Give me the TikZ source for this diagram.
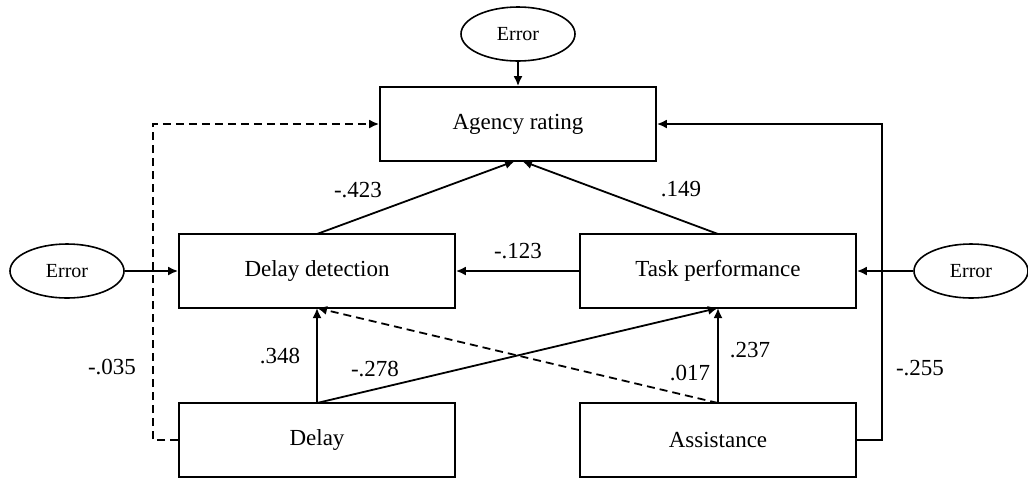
\documentclass[tikz,border=0pt]{standalone}
\usepackage{fontspec}
\setmainfont{Liberation Serif}
\usetikzlibrary{shapes.geometric,arrows.meta}
\begin{document}
\begin{tikzpicture}[x=0.5pt,y=-0.5pt,
  var/.style={draw,line width=0.9pt,minimum width=138pt,minimum height=37pt,inner sep=0pt,font=\fontsize{11.5pt}{13pt}\selectfont},
  err/.style={draw,ellipse,line width=0.8pt,minimum width=57pt,minimum height=27pt,inner sep=0pt,font=\fontsize{10pt}{12pt}\selectfont},
  conn/.style={line width=0.9pt,-{Latex[length=5pt,width=4.5pt]}},
  dconn/.style={conn,dash pattern=on 4pt off 2.5pt},
  lab/.style={font=\fontsize{11.5pt}{13pt}\selectfont,inner sep=0pt}]
\useasboundingbox (0,0) rectangle (1028,478);
\node[var] (ar) at (518,124) {Agency rating};
\node[var] (dd) at (317,271) {Delay detection};
\node[var] (tp) at (718,271) {Task performance};
\node[var] (de) at (317,440) {Delay};
\node[var] (as) at (718,440) {Assistance};
\node[err] (e1) at (518,34) {Error};
\node[err] (e2) at (67,271) {Error};
\node[err] (e3) at (971,271) {Error};
\coordinate (tgt1) at (515,161);
\coordinate (tgt2) at (522,161);
\coordinate (ddb) at (317,308);
\coordinate (tpb) at (718,308);
\coordinate (det) at (317,403);
\coordinate (ast) at (718,403);
\coordinate (ddt) at (317,234);
\coordinate (tpt) at (718,234);
\coordinate (lc1) at (153,440);
\coordinate (lc2) at (153,124);
\coordinate (rc1) at (882,440);
\coordinate (rc2) at (882,124);
\draw[conn] (e1) -- (ar);
\draw[conn] (e2) -- (dd);
\draw[conn] (e3) -- (tp);
\draw[conn] (ddt) -- (tgt1);
\draw[conn] (tpt) -- (tgt2);
\draw[conn] (tp) -- (dd);
\draw[conn] (det) -- (ddb);
\draw[conn] (det) -- (tpb);
\draw[conn] (ast) -- (tpb);
\draw[dconn] (ast) -- (ddb);
\draw[dconn] (de.west) -- (lc1) -- (lc2) -- (ar.west);
\draw[conn] (as.east) -- (rc1) -- (rc2) -- (ar.east);
\node[lab] (l1) at (358,190) {-.423};
\node[lab] (l2) at (681,189) {.149};
\node[lab] (l3) at (518,251) {-.123};
\node[lab] (l4) at (280,356) {.348};
\node[lab] (l5) at (375,369) {-.278};
\node[lab] (l6) at (690,373) {.017};
\node[lab] (l7) at (750,350) {.237};
\node[lab] (l8) at (920,368) {-.255};
\node[lab] (l9) at (112,367) {-.035};
\end{tikzpicture}
\end{document}
